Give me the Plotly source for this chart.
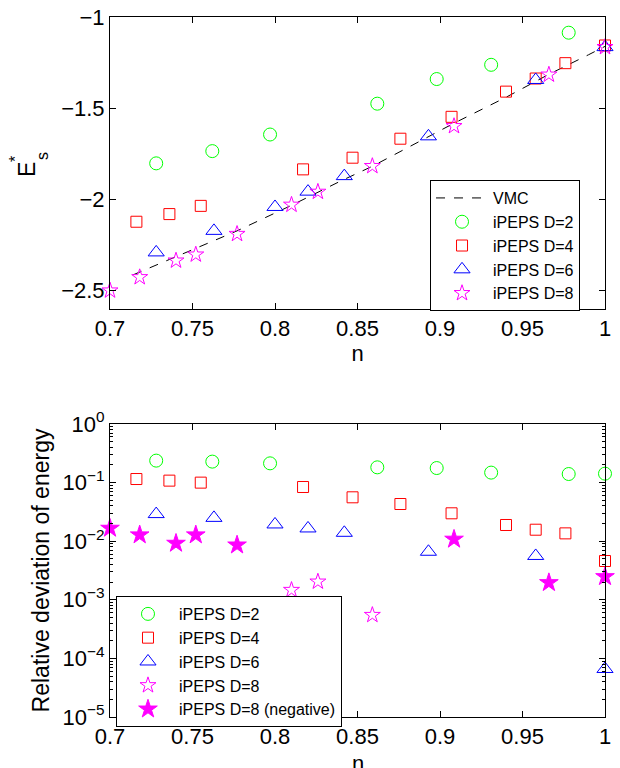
import plotly.graph_objects as go

# ---- data: top panel (E*_s vs n) ----
n_VMC = [0.714, 0.740, 0.777, 0.810, 0.840, 0.859, 0.9085, 0.940, 0.966, 0.990, 1.0]
E_VMC = [-2.413, -2.314, -2.172, -2.032, -1.898, -1.818, -1.582, -1.44, -1.314, -1.207, -1.161]

n_D2 = [0.728, 0.762, 0.797, 0.862, 0.898, 0.931, 0.978, 1.0]
E_D2 = [-1.802, -1.735, -1.644, -1.475, -1.340, -1.262, -1.086, -0.998]

n_D4 = [0.716, 0.736, 0.755, 0.817, 0.847, 0.876, 0.907, 0.940, 0.958, 0.976, 1.0]
E_D4 = [-2.122, -2.080, -2.035, -1.835, -1.771, -1.667, -1.547, -1.409, -1.337, -1.253, -1.156]

n_D6 = [0.728, 0.763, 0.800, 0.820, 0.842, 0.893, 0.958, 1.0]
E_D6 = [-2.29, -2.172, -2.041, -1.957, -1.872, -1.654, -1.345, -1.165]

n_D8 = [0.700, 0.718, 0.740, 0.752, 0.777, 0.810, 0.826, 0.859, 0.9085, 0.966, 1.0]
E_D8 = [-2.499, -2.426, -2.335, -2.302, -2.189, -2.029, -1.958, -1.817, -1.598, -1.316, -1.165]

# ---- data: bottom panel (relative deviation) ----
dev_D2 = [0.237, 0.228, 0.213, 0.182, 0.177, 0.148, 0.140, 0.142]
dev_D4 = [0.115, 0.108, 0.0998, 0.0841, 0.0561, 0.0431, 0.0299, 0.0189, 0.0157, 0.0136, 0.00459]
dev_D6 = [0.029, 0.025, 0.0193, 0.0165, 0.0139, 0.0066, 0.0056, 6.6e-5]
n_D8_pos = [0.810, 0.826, 0.859]
dev_D8_pos = [1.47e-3, 2.04e-3, 5.5e-4]
n_D8_neg = [0.700, 0.718, 0.740, 0.752, 0.777, 0.9085, 0.966, 1.0]
dev_D8_neg = [0.0166, 0.0128, 0.0092, 0.0128, 0.0086, 0.0108, 1.96e-3, 2.48e-3]

x_ticks = [0.7, 0.75, 0.8, 0.85, 0.9, 0.95, 1.0]
y_ticks_top = [-2.5, -2, -1.5, -1]
log_ticks = [1e-5, 1e-4, 1e-3, 1e-2, 1e-1, 1]
log_tick_text = ["10<sup>\u22125</sup>", "10<sup>\u22124</sup>", "10<sup>\u22123</sup>",
                 "10<sup>\u22122</sup>", "10<sup>\u22121</sup>", "10<sup>0</sup>"]

GREEN, RED, BLUE, MAG = "#00ff00", "#ff0000", "#0000ff", "#ff00ff"
FONT = "Arial, Liberation Sans, sans-serif"

fig = go.Figure()

def mk(sym, color, size):
    return dict(symbol=sym, size=size, color=color, line=dict(color=color, width=1))

# top
fig.add_trace(go.Scatter(x=n_VMC, y=E_VMC, mode="lines", name="VMC",
                         line=dict(color="black", dash="dash", width=1),
                         xaxis="x", yaxis="y", legend="legend"))
fig.add_trace(go.Scatter(x=n_D2, y=E_D2, mode="markers", name="iPEPS D=2",
                         marker=mk("circle-open", GREEN, 13), cliponaxis=False,
                         xaxis="x", yaxis="y", legend="legend"))
fig.add_trace(go.Scatter(x=n_D4, y=E_D4, mode="markers", name="iPEPS D=4",
                         marker=mk("square-open", RED, 11), cliponaxis=False,
                         xaxis="x", yaxis="y", legend="legend"))
fig.add_trace(go.Scatter(x=n_D6, y=E_D6, mode="markers", name="iPEPS D=6",
                         marker=mk("triangle-up-open", BLUE, 14), cliponaxis=False,
                         xaxis="x", yaxis="y", legend="legend"))
fig.add_trace(go.Scatter(x=n_D8, y=E_D8, mode="markers", name="iPEPS D=8",
                         marker=mk("star-open", MAG, 12), cliponaxis=False,
                         xaxis="x", yaxis="y", legend="legend"))

# bottom
fig.add_trace(go.Scatter(x=n_D2, y=dev_D2, mode="markers", name="iPEPS D=2",
                         marker=mk("circle-open", GREEN, 13), cliponaxis=False,
                         xaxis="x2", yaxis="y2", legend="legend2"))
fig.add_trace(go.Scatter(x=n_D4, y=dev_D4, mode="markers", name="iPEPS D=4",
                         marker=mk("square-open", RED, 11), cliponaxis=False,
                         xaxis="x2", yaxis="y2", legend="legend2"))
fig.add_trace(go.Scatter(x=n_D6, y=dev_D6, mode="markers", name="iPEPS D=6",
                         marker=mk("triangle-up-open", BLUE, 14), cliponaxis=False,
                         xaxis="x2", yaxis="y2", legend="legend2"))
fig.add_trace(go.Scatter(x=n_D8_pos, y=dev_D8_pos, mode="markers", name="iPEPS D=8",
                         marker=mk("star-open", MAG, 12), cliponaxis=False,
                         xaxis="x2", yaxis="y2", legend="legend2"))
fig.add_trace(go.Scatter(x=n_D8_neg, y=dev_D8_neg, mode="markers", name="iPEPS D=8 (negative)",
                         marker=mk("star", MAG, 14), cliponaxis=False,
                         xaxis="x2", yaxis="y2", legend="legend2"))

axis_common = dict(showline=True, linecolor="black", linewidth=1, mirror="ticks",
                   ticks="inside", ticklen=6, tickcolor="black", showgrid=False,
                   zeroline=False, automargin=False,
                   tickfont=dict(size=22, color="black", family=FONT))

xcommon = dict(axis_common, range=[0.7, 1.0], tickvals=x_ticks,
               ticktext=[("%g" % v) for v in x_ticks])

legend_common = dict(bgcolor="white", bordercolor="black", borderwidth=1,
                     font=dict(size=16, color="black", family=FONT),
                     xanchor="left", yanchor="top", tracegroupgap=0, itemwidth=52)

fig.update_layout(
    width=620, height=768,
    margin=dict(l=110, r=15, t=17, b=51, autoexpand=False),
    paper_bgcolor="white", plot_bgcolor="white",
    font=dict(family=FONT, color="black"),
    xaxis=dict(xcommon, domain=[0, 1], anchor="y",
               title=dict(text="n", font=dict(size=22, color="black", family=FONT), standoff=4)),
    yaxis=dict(axis_common, domain=[0.5829, 1], range=[-2.6, -1.0], anchor="x",
               tickvals=y_ticks_top),
    xaxis2=dict(xcommon, domain=[0, 1], anchor="y2"),
    yaxis2=dict(axis_common, domain=[0, 0.4186], type="log", range=[-5, 0], anchor="x2",
                tickvals=log_ticks, ticktext=log_tick_text,
                minor=dict(ticks="inside", ticklen=3, tickcolor="black", showgrid=False,
                           dtick="D1"),
                title=dict(text="Relative deviation of energy",
                           font=dict(size=23, color="black", family=FONT), standoff=6)),
    legend=dict(legend_common, x=0.6465, y=0.7671),
    legend2=dict(legend_common, x=0.0121, y=0.1729),
    showlegend=True,
    annotations=[
        dict(text="E", x=-0.1677, y=0.7829, xref="paper", yref="paper", showarrow=False,
             textangle=-90, font=dict(size=23, family=FONT, color="black"),
             xanchor="center", yanchor="middle"),
        dict(text="s", x=-0.1374, y=0.8014, xref="paper", yref="paper", showarrow=False,
             textangle=-90, font=dict(size=16, family=FONT, color="black"),
             xanchor="center", yanchor="middle"),
        dict(text="*", x=-0.1919, y=0.797, xref="paper", yref="paper", showarrow=False,
             textangle=-90, font=dict(size=16, family=FONT, color="black"),
             xanchor="center", yanchor="middle"),
        dict(text="n", x=0.5, y=-0.0457, xref="paper", yref="paper", showarrow=False,
             font=dict(size=22, family=FONT, color="black"),
             xanchor="center", yanchor="top"),
    ],
)

fig.write_html("out.html", config={"displayModeBar": False},
               post_script="document.body.style.margin='0';document.body.style.overflow='hidden';")
